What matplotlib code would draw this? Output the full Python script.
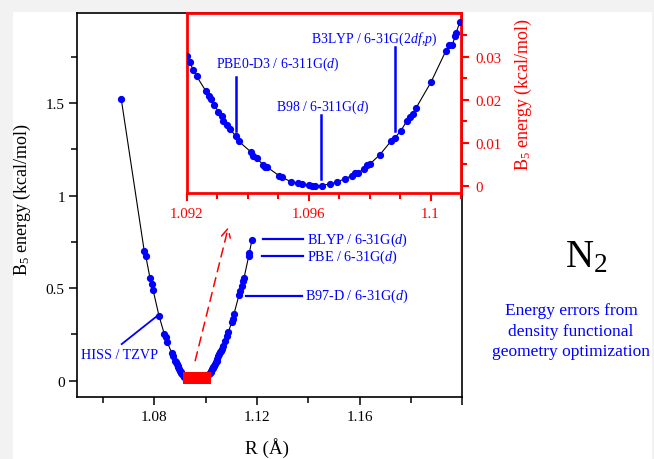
import numpy as np
import matplotlib
matplotlib.use("Agg")
import matplotlib.pyplot as plt
from matplotlib.patches import Rectangle
from matplotlib.ticker import MultipleLocator, FixedLocator, FuncFormatter

plt.rcParams['font.family'] = ['Liberation Serif', 'DejaVu Serif']
plt.rcParams['mathtext.fontset'] = 'custom'
plt.rcParams['mathtext.rm'] = 'Liberation Serif'
plt.rcParams['mathtext.it'] = 'Liberation Serif:italic'

# main curve, left branch (R in Angstrom, energy in kcal/mol)
left_r = [1.06714, 1.07610, 1.07665, 1.07832, 1.07899, 1.07949, 1.08183, 1.08390,
          1.08444, 1.08507, 1.08678, 1.08740, 1.08806, 1.08840, 1.08873, 1.08905, 1.08935,
          1.08965, 1.09000, 1.09025, 1.09050, 1.09080, 1.09110, 1.09140, 1.09170]
left_e = [1.521, 0.699, 0.676, 0.555, 0.523, 0.492, 0.351, 0.252,
          0.235, 0.208, 0.150, 0.132, 0.108, 0.099, 0.090, 0.081, 0.072,
          0.063, 0.055, 0.048, 0.042, 0.035, 0.029, 0.023, 0.018]
# main curve, right branch
right_r = [1.10130, 1.10160, 1.10190, 1.10220, 1.10250, 1.10275, 1.10300, 1.10330, 1.10365,
           1.10400, 1.10431, 1.10460, 1.10493, 1.10525, 1.10559, 1.10590, 1.10626, 1.10688,
           1.10754, 1.10820, 1.10883, 1.11015, 1.11054, 1.11105, 1.11300, 1.11339,
           1.11405, 1.11444, 1.11494, 1.11677, 1.11701, 1.11806]
right_e = [0.038, 0.043, 0.049, 0.055, 0.061, 0.067, 0.073, 0.081, 0.090,
           0.099, 0.108, 0.118, 0.132, 0.142, 0.154, 0.162, 0.171, 0.189,
           0.216, 0.243, 0.262, 0.316, 0.334, 0.361, 0.463, 0.486,
           0.514, 0.537, 0.555, 0.672, 0.690, 0.762]

# zoomed region near the minimum
zoom_r = [1.09200, 1.09210, 1.09221, 1.09233, 1.09262, 1.09273, 1.09280, 1.09291, 1.09304,
          1.09315, 1.09320, 1.09333, 1.09342, 1.09361, 1.09371, 1.09411, 1.09418, 1.09430,
          1.09451, 1.09457, 1.09464, 1.09503, 1.09513, 1.09542, 1.09564, 1.09577, 1.09600,
          1.09610, 1.09621, 1.09643, 1.09670, 1.09692, 1.09719, 1.09741, 1.09752, 1.09763,
          1.09781, 1.09793, 1.09801, 1.09834, 1.09870, 1.09883, 1.09902, 1.09923, 1.09932,
          1.09941, 1.09952, 1.10001, 1.10050, 1.10061, 1.10072, 1.10081, 1.10083, 1.10096]
zoom_e = [0.0301, 0.0287, 0.0270, 0.0254, 0.0221, 0.0209, 0.0201, 0.0188, 0.0171,
          0.0161, 0.0151, 0.0140, 0.0132, 0.0115, 0.0103, 0.0078, 0.0068, 0.0064,
          0.0048, 0.0044, 0.0043, 0.0023, 0.0019, 0.0009, 0.0006, 0.0003, 0.0001,
          0.0000, 0.0000, 0.0000, 0.0004, 0.0008, 0.0016, 0.0023, 0.0029, 0.0030,
          0.0039, 0.0047, 0.0050, 0.0072, 0.0103, 0.0111, 0.0127, 0.0151, 0.0160,
          0.0167, 0.0180, 0.0240, 0.0313, 0.0327, 0.0328, 0.0349, 0.0354, 0.0380]

blue = '#0000ff'
fig = plt.figure(figsize=(6.54, 4.60), dpi=100, facecolor='#f2f2f2')
fig.add_artist(Rectangle((12.5/654, 0), (652-12.5)/654, (460-13)/460,
                         transform=fig.transFigure, facecolor='white', edgecolor='none', zorder=-10))

# ---------------- main axes ----------------
ax = fig.add_axes([77.3/654, 1-398.3/460, (462.3-77.3)/654, (398.3-14.3)/460])
all_r = left_r + zoom_r + right_r
all_e = left_e + zoom_e + right_e
ax.plot(all_r, all_e, color='black', lw=0.8, zorder=2)
ax.plot(left_r + right_r, left_e + right_e, 'o', color=blue, ms=4.2, zorder=3)
# region shown in the inset, marked as a red box
r0, r1 = min(zoom_r), max(zoom_r)
e0, e1 = min(zoom_e), max(zoom_e)
ax.add_patch(Rectangle((r0, e0), r1 - r0, e1 - e0, facecolor='red', edgecolor='red',
                       lw=3.6, zorder=4))

ax.set_xlim(1.05, 1.2)
ax.set_ylim(-0.0897, 1.986)
ax.xaxis.set_major_locator(FixedLocator([1.08, 1.12, 1.16, 1.2]))
ax.xaxis.set_major_formatter(FuncFormatter(lambda v, p: '' if v > 1.19 else f'{v:.2f}'))
ax.xaxis.set_minor_locator(FixedLocator([1.06, 1.10, 1.14, 1.18]))
ax.yaxis.set_major_locator(MultipleLocator(0.5))
ax.yaxis.set_minor_locator(MultipleLocator(0.25))
ax.yaxis.set_major_formatter(FuncFormatter(lambda v, p: f'{v:g}'))
ax.tick_params(which='major', direction='out', length=6, width=1.1, labelsize=11, pad=3)
ax.tick_params(which='minor', direction='out', length=4, width=1.1)
ax.tick_params(top=False, right=False)
for s in ax.spines.values():
    s.set_linewidth(1.2)

# annotations on the main curve
ann = 10.2
ax.plot([1.12246, 1.13804], [0.764, 0.764], color=blue, lw=1.6)
ax.text(1.13937, 0.764, r'BLYP / 6-31G($\mathit{d}$)', color=blue, fontsize=ann, va='center', ha='left')
ax.plot([1.12207, 1.13804], [0.674, 0.674], color=blue, lw=1.6)
ax.text(1.13937, 0.674, r'PBE / 6-31G($\mathit{d}$)', color=blue, fontsize=ann, va='center', ha='left')
ax.plot([1.11569, 1.13750], [0.459, 0.459], color=blue, lw=1.6)
ax.text(1.13859, 0.459, r'B97-D / 6-31G($\mathit{d}$)', color=blue, fontsize=ann, va='center', ha='left')
ax.plot([1.06730, 1.08093], [0.198, 0.348], color=blue, lw=1.3)
ax.text(1.06633, 0.139, 'HISS / TZVP', color=blue, fontsize=ann, va='center', ha='center')
ax.annotate('', xy=(1.10890, 0.832), xytext=(1.09593, 0.108),
            arrowprops=dict(arrowstyle='->', color='red', lw=1.1, ls=(0, (6, 4)),
                            mutation_scale=16, shrinkA=0, shrinkB=0))

# ---------------- inset ----------------
ins = fig.add_axes([186.7/654, 1-194.3/460, (461-186.7)/654, (194.3-14.3)/460])
ins.set_facecolor('white')
ins.plot(zoom_r, zoom_e, color='black', lw=0.8, zorder=2)
ins.plot(zoom_r, zoom_e, 'o', color=blue, ms=4.2, zorder=3)
ins.set_xlim(1.092, 1.101)
ins.set_ylim(-0.0018, 0.0401)
ins.xaxis.set_major_locator(FixedLocator([1.092, 1.096, 1.1]))
ins.xaxis.set_major_formatter(FuncFormatter(lambda v, p: f'{v:g}'))
ins.xaxis.set_minor_locator(MultipleLocator(0.001))
ins.yaxis.set_major_locator(FixedLocator([0, 0.01, 0.02, 0.03]))
ins.yaxis.set_minor_locator(FixedLocator([0.005, 0.015, 0.025, 0.035]))
ins.yaxis.set_major_formatter(FuncFormatter(lambda v, p: f'{v:g}'))
ins.yaxis.tick_right()
ins.tick_params(which='both', direction='out', color='red', labelcolor='red', width=1.5,
                labelsize=10.7, left=False, top=False)
ins.tick_params(which='major', length=6, pad=4)
ins.tick_params(which='minor', length=4)
for s in ins.spines.values():
    s.set_color('red')
    s.set_linewidth(2.0)

iann = 9.9
ins.plot([1.09362, 1.09362], [0.0128, 0.0252], color=blue, lw=1.8)
ins.text(1.09500, 0.0285, r'PBE0-D3 / 6-311G($\mathit{d}$)', color=blue, fontsize=iann, ha='center', va='center')
ins.plot([1.09640, 1.09640], [0.0016, 0.0164], color=blue, lw=1.8)
ins.text(1.09647, 0.0185, r'B98 / 6-311G($\mathit{d}$)', color=blue, fontsize=iann, ha='center', va='center')
ins.plot([1.09883, 1.09883], [0.0126, 0.0322], color=blue, lw=1.8)
ins.text(1.09816, 0.0343, r'B3LYP / 6-31G(2$\mathit{df}$,$\mathit{p}$)', color=blue, fontsize=iann, ha='center', va='center')

# axis labels
fig.text(22/654, 1-199/460, r'B$_5$ energy (kcal/mol)', rotation=90, fontsize=13, ha='center', va='center')
fig.text(523/654, 1-94/460, r'B$_5$ energy (kcal/mol)', rotation=90, fontsize=13, color='red', ha='center', va='center')
fig.text(267/654, 1-448/460, 'R (Å)', fontsize=13.8, ha='center', va='center')

# side caption
fig.text(586/654, 1-258/460, r'N$_2$', fontsize=28, ha='center', va='center')
fig.text(571/654, 1-331.5/460, 'Energy errors from\ndensity functional\ngeometry optimization',
         color=blue, fontsize=12.5, ha='center', va='center', linespacing=1.35)

fig.savefig('out.png', dpi=100, facecolor=fig.get_facecolor())
